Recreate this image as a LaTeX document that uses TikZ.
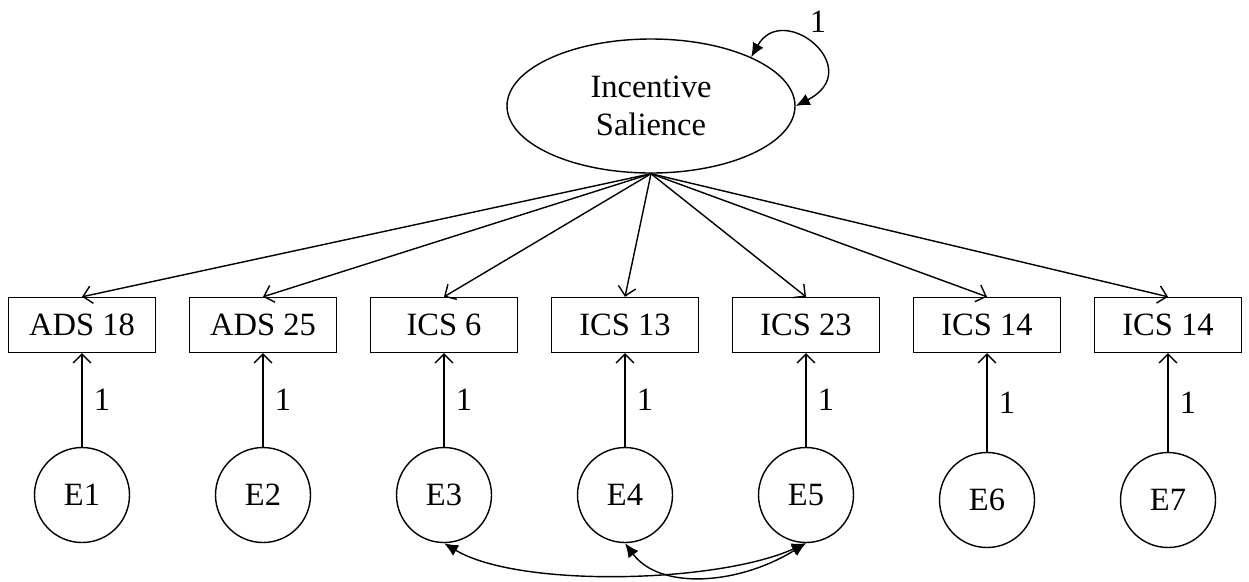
\documentclass[tikz,border=0pt]{standalone}
\usepackage{fontspec}
\setmainfont{Liberation Serif}
\usetikzlibrary{shapes.geometric,arrows.meta,positioning}

\begin{document}
\begin{tikzpicture}[node distance=3.62cm, font=\fontsize{18.5}{21.6}\selectfont, line width=0.8pt,
		obs/.style={rectangle, draw, minimum width=2.94cm, minimum height=1.1cm, inner sep=0pt},
		err/.style={circle, draw, minimum size=1.9cm, inner sep=0pt},
		lat/.style={ellipse, draw, minimum width=5.76cm, minimum height=2.68cm, inner sep=0pt, align=center},
		load/.style={-{Straight Barb[length=5pt,width=10pt]}},
		cov/.style={{Latex[length=8pt,width=7pt]}-{Latex[length=8pt,width=7pt]}},
		fix/.style={right, xshift=3pt}]
			\useasboundingbox (0,0) rectangle (24.98,-11.62);

			\node[lat] (IS) at (13.02,-2.12) {Incentive\\Salience};

			\node[obs] (A18) at (1.64,-6.5) {ADS 18};
			\node[obs] (A25)[right of = A18] {ADS 25};
			\node[obs] (I6)[right of = A25] {ICS 6};
			\node[obs] (I13)[right of = I6] {ICS 13};
			\node[obs] (I23)[right of = I13] {ICS 23};
			\node[obs] (I14a)[right of = I23] {ICS 14};
			\node[obs] (I14b)[right of = I14a] {ICS 14};

			\node[err] (E1)[below of = A18, node distance=3.4cm] {E1};
			\node[err] (E2)[below of = A25, node distance=3.4cm] {E2};
			\node[err] (E3)[below of = I6, node distance=3.4cm] {E3};
			\node[err] (E4)[below of = I13, node distance=3.4cm] {E4};
			\node[err] (E5)[below of = I23, node distance=3.4cm] {E5};
			\node[err] (E6)[below of = I14a, node distance=3.5cm] {E6};
			\node[err] (E7)[below of = I14b, node distance=3.5cm] {E7};

			\path[load]
				(IS.south) edge (A18.north)
				(IS.south) edge (A25.north)
				(IS.south) edge (I6.north)
				(IS.south) edge (I13.north)
				(IS.south) edge (I23.north)
				(IS.south) edge (I14a.north)
				(IS.south) edge (I14b.north)

				(E1) edge node[fix] {1} (A18)
				(E2) edge node[fix] {1} (A25)
				(E3) edge node[fix] {1} (I6)
				(E4) edge node[fix] {1} (I13)
				(E5) edge node[fix] {1} (I23)
				(E6) edge node[fix] {1} (I14a)
				(E7) edge node[fix] {1} (I14b)
			;

			% variance of the factor
			\draw[cov] (IS.26) .. controls +(0.64,1.14) and +(1.44,0.74) .. (IS.east);
			\node (var) at (16.36,-0.44) {1};

			% correlated errors
			\draw[cov] (E3.south) .. controls +(1.5,-0.9) and +(-1.76,-0.8) .. (E5.south);
			\draw[cov] (E4.south) .. controls +(0.7,-0.94) and +(-1.36,-0.84) .. (E5.south);
		\end{tikzpicture}
\end{document}
